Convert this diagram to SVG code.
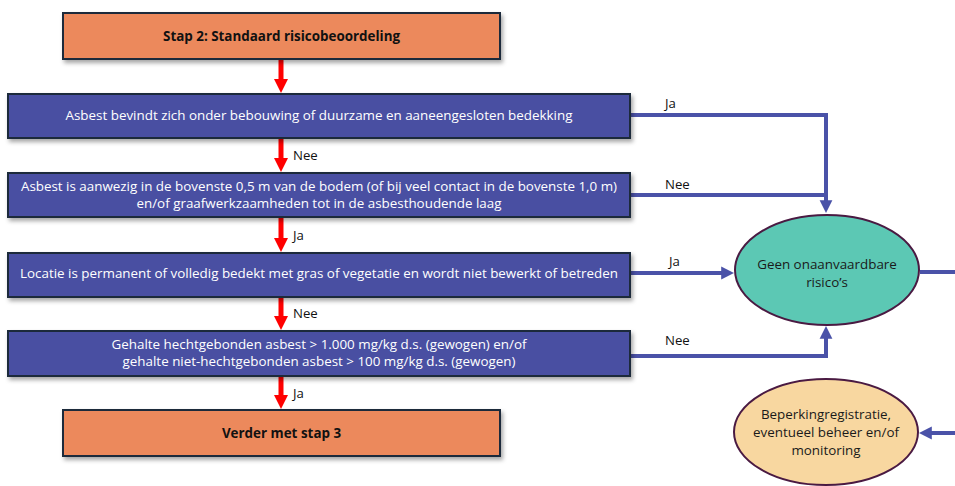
<svg xmlns="http://www.w3.org/2000/svg" width="955" height="486" viewBox="0 0 955 486">
<style>
.box{stroke:#1c2b3a;stroke-width:2}
.orange{fill:#ec895c}
.blue{fill:#4a50a2}
.t{font-family:"Open Sans","Liberation Sans",sans-serif;font-size:13.4px;text-anchor:middle}
.w{fill:#ffffff}
.d{fill:#1a1a1a}
.b{font-weight:bold;fill:#111}
.lbl{font-family:"Open Sans","Liberation Sans",sans-serif;font-size:13.2px;fill:#111}
.red{stroke:#ff0000;stroke-width:5;fill:none}
.con{stroke:#4a52a8;stroke-width:4;fill:none}
</style>
<defs>
<filter id="sh" x="-5%" y="-20%" width="110%" height="150%">
<feDropShadow dx="2" dy="3" stdDeviation="2" flood-color="#000" flood-opacity="0.35"/>
</filter>
<marker id="ar" markerWidth="4" markerHeight="4" refX="0.2" refY="2" orient="auto" markerUnits="strokeWidth">
<path d="M0,0.6 L2.8,2 L0,3.4 Z" fill="#ff0000"/>
</marker>
<marker id="ab" markerWidth="4" markerHeight="4" refX="0.2" refY="2" orient="auto" markerUnits="strokeWidth">
<path d="M0,0.4 L3.2,2 L0,3.6 Z" fill="#4a52a8"/>
</marker>
</defs>
<rect width="955" height="486" fill="#ffffff"/>

<g id="connectors">
<line class="red" x1="281" y1="60" x2="281" y2="80" marker-end="url(#ar)"/>
<line class="red" x1="281" y1="139" x2="281" y2="159" marker-end="url(#ar)"/>
<line class="red" x1="281" y1="218" x2="281" y2="239" marker-end="url(#ar)"/>
<line class="red" x1="281" y1="298" x2="281" y2="317" marker-end="url(#ar)"/>
<line class="red" x1="281" y1="377" x2="281" y2="396" marker-end="url(#ar)"/>
<polyline class="con" points="631,115 826,115 826,201" marker-end="url(#ab)"/>
<polyline class="con" points="631,195 826,195"/>
<line class="con" x1="631" y1="273" x2="722" y2="273" marker-end="url(#ab)"/>
<polyline class="con" points="631,356 826,356 826,338" marker-end="url(#ab)"/>
<line class="con" x1="920" y1="272" x2="955" y2="272"/>
<line class="con" x1="955" y1="433" x2="931" y2="433" marker-end="url(#ab)"/>
<text class="lbl" x="293" y="160">Nee</text>
<text class="lbl" x="293" y="240">Ja</text>
<text class="lbl" x="293" y="318">Nee</text>
<text class="lbl" x="293" y="398">Ja</text>
<text class="lbl" x="665" y="108">Ja</text>
<text class="lbl" x="665" y="189">Nee</text>
<text class="lbl" x="669" y="266">Ja</text>
<text class="lbl" x="665" y="345">Nee</text>
</g>

<g id="stap2">
<rect class="box orange" x="63" y="13" width="437" height="46" filter="url(#sh)"/>
<text class="t b" x="281.5" y="41">Stap 2: Standaard risicobeoordeling</text>
</g>

<g id="bebouwing">
<rect class="box blue" x="8" y="94" width="622" height="44" filter="url(#sh)"/>
<text class="t w" x="319" y="120">Asbest bevindt zich onder bebouwing of duurzame en aaneengesloten bedekking</text>
</g>

<g id="bovenste">
<rect class="box blue" x="8" y="173" width="622" height="44" filter="url(#sh)"/>
<text class="t w" x="319" y="191">Asbest is aanwezig in de bovenste 0,5 m van de bodem (of bij veel contact in de bovenste 1,0 m)</text>
<text class="t w" x="319" y="208">en/of graafwerkzaamheden tot in de asbesthoudende laag</text>
</g>

<g id="locatie">
<rect class="box blue" x="8" y="253" width="622" height="44" filter="url(#sh)"/>
<text class="t w" x="319" y="278">Locatie is permanent of volledig bedekt met gras of vegetatie en wordt niet bewerkt of betreden</text>
</g>

<g id="gehalte">
<rect class="box blue" x="8" y="331" width="622" height="45" filter="url(#sh)"/>
<text class="t w" x="319" y="349">Gehalte hechtgebonden asbest &gt; 1.000 mg/kg d.s. (gewogen) en/of</text>
<text class="t w" x="319" y="366">gehalte niet-hechtgebonden asbest &gt; 100 mg/kg d.s. (gewogen)</text>
</g>

<g id="stap3">
<rect class="box orange" x="63" y="410" width="437" height="46" filter="url(#sh)"/>
<text class="t b" x="281.5" y="438">Verder met stap 3</text>
</g>

<g id="geen-risico">
<ellipse cx="827" cy="270" rx="92" ry="55" fill="#5cc8b4" stroke="#4a1a42" stroke-width="2"/>
<text class="t d" x="827" y="269">Geen onaanvaardbare</text>
<text class="t d" x="827" y="287">risico’s</text>
</g>

<g id="beperking">
<ellipse cx="826" cy="432" rx="92" ry="53" fill="#f8d7a0" stroke="#4a1a42" stroke-width="2"/>
<text class="t d" x="826" y="419">Beperkingregistratie,</text>
<text class="t d" x="826" y="437">eventueel beheer en/of</text>
<text class="t d" x="826" y="455">monitoring</text>
</g>
</svg>
